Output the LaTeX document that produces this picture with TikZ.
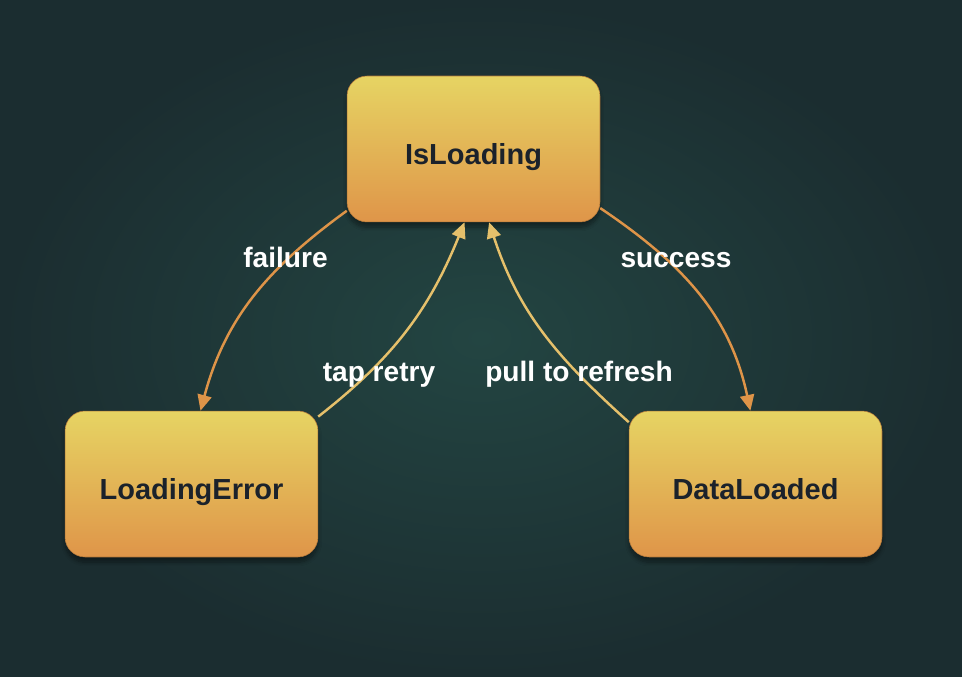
\documentclass[tikz,border=0pt]{standalone}
\usepackage{fontspec}
\setmainfont{Liberation Sans}
\usetikzlibrary{arrows.meta,shadows.blur}

\definecolor{bginner}{HTML}{234542}
\definecolor{bgouter}{HTML}{1B2D30}
\definecolor{statetop}{HTML}{E6D463}
\definecolor{statebottom}{HTML}{DF9549}
\definecolor{statetext}{HTML}{1B222B}
\definecolor{forwardline}{HTML}{DE9448}
\definecolor{backline}{HTML}{E5C06B}

\begin{document}
\begin{tikzpicture}[x=0.02cm, y=0.02cm,
    state/.style={rectangle, rounded corners=0.4cm, minimum width=5.06cm, minimum height=2.92cm,
        top color=statetop, bottom color=statebottom, draw=statebottom!80!black, line width=0.3pt,
        text=statetext, font=\bfseries\fontsize{16.5}{18}\selectfont, text height=18pt, text depth=0pt,
        blur shadow={shadow blur steps=10, shadow xshift=0pt, shadow yshift=-3pt, shadow opacity=40}},
    lbl/.style={text=white, font=\bfseries\fontsize{16}{18}\selectfont, anchor=base},
    forward/.style={-{Triangle[length=9pt, width=8pt]}, line width=1.4pt, forwardline},
    back/.style={-{Triangle[length=9pt, width=8pt]}, line width=1.4pt, backline}]

    % Background
    \shade[inner color=bginner, outer color=bgouter] (0,0) rectangle (962,676);
    \useasboundingbox (0,0) rectangle (962,676);

    % States
    \node[state] (isloading) at (473.5,527) {IsLoading};
    \node[state] (loadingerror) at (191.5,192) {LoadingError};
    \node[state] (dataloaded) at (755.5,192) {DataLoaded};

    % Transitions
    \draw[forward] (isloading.206) to[out=216, in=75] (loadingerror.83);
    \draw[forward] (isloading.335) to[out=326, in=102] (dataloaded.94);
    \draw[back] (loadingerror.28.5) to[out=38, in=248] (isloading.263.5);
    \draw[back] (dataloaded.154.5) to[out=138, in=288] (isloading.282);

    % Transition labels
    \node[lbl] (failurelbl) at (285.5,408) {failure};
    \node[lbl] (successlbl) at (676,408) {success};
    \node[lbl] (retrylbl) at (379,294) {tap retry};
    \node[lbl] (refreshlbl) at (579,294) {pull to refresh};
\end{tikzpicture}
\end{document}
